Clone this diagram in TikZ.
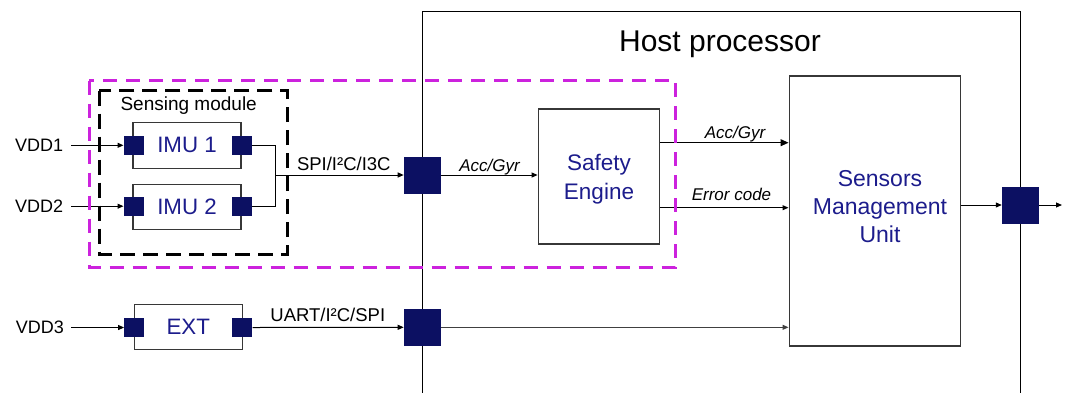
\documentclass[tikz,border=0pt]{standalone}
\usepackage{fontspec}
\setmainfont{Liberation Sans}
\usetikzlibrary{arrows.meta}

\definecolor{portnavy}{RGB}{12,16,98}
\definecolor{blocktext}{RGB}{28,28,140}
\definecolor{grpmag}{RGB}{204,34,221}
\definecolor{edgegray}{RGB}{55,55,55}

\newcommand{\pxfont}[2]{\fontsize{#1}{#2}\selectfont}

\tikzset{
  block/.style={draw=edgegray, line width=1.4pt, fill=white, inner sep=0pt,
                text=blocktext, font=\pxfont{22.3}{26}},
  port/.style={fill=portnavy, inner sep=0pt, minimum width=20, minimum height=19},
  hostport/.style={fill=portnavy, inner sep=0pt, minimum size=37},
  lbl/.style={inner sep=0pt, font=\pxfont{18}{22}},
  buslbl/.style={inner sep=0pt, font=\pxfont{18.5}{22}},
  sig/.style={inner sep=0pt, font=\itshape\pxfont{17}{20}},
  wire/.style={line width=1pt, draw=black},
  arr/.style={wire, -{Triangle[length=6pt,width=5pt]}},
  bigarr/.style={wire, -{Triangle[length=8pt,width=7pt]}},
  group/.style={line width=3pt, dash pattern=on 14pt off 9pt},
}

\begin{document}
\begin{tikzpicture}[x=1pt, y=-1pt]
\useasboundingbox (0,0) rectangle (1070,392);

% host processor outline (open at the bottom)
\draw[line width=1pt] (422,393) -- (422,11.5) -- (1020,11.5) -- (1020,393);
\node[inner sep=0pt, anchor=base, font=\pxfont{30}{34}] (hosttitle) at (720,51.7) {Host processor};

% blocks
\node[block, minimum width=108, minimum height=46] (imu1) at (187,145.3) {IMU 1};
\node[block, minimum width=108, minimum height=45] (imu2) at (187,206.7) {IMU 2};
\node[block, minimum width=108, minimum height=45] (ext) at (188.3,326.8) {EXT};
\node[block, minimum width=121, minimum height=135] (se) at (598.8,176.5) {};
\node[inner sep=0pt, align=center, text=blocktext, font=\pxfont{22.5}{29.3}] (setext) at (599,179.5) {Safety\\Engine};
\node[block, minimum width=171, minimum height=270] (smu) at (874.7,210.9) {};
\node[inner sep=0pt, align=center, text=blocktext, font=\pxfont{23}{28}] (smutext) at (880,206.4) {Sensors\\Management\\Unit};

% supply labels
\node[lbl, anchor=base west] (vdd1) at (15,151.7) {VDD1};
\node[lbl, anchor=base west] (vdd2) at (15,212.7) {VDD2};
\node[lbl, anchor=base west] (vdd3) at (15.7,333.7) {VDD3};

% ports
\node[port] (imu1in) at (133.7,145.3) {};
\node[port] (imu1out) at (241.7,145.3) {};
\node[port] (imu2in) at (133.7,206.2) {};
\node[port] (imu2out) at (241.7,206.2) {};
\node[port] (extin) at (134.3,327.5) {};
\node[port] (extout) at (242.3,327.5) {};
\node[hostport] (hp1) at (422.4,175) {};
\node[hostport] (hp2) at (422.4,327.3) {};
\node[hostport] (hp3) at (1020.5,205) {};

% supply wires
\coordinate (v1) at ([xshift=8pt]vdd1.east);
\coordinate (v2) at ([xshift=8pt]vdd2.east);
\coordinate (v3) at ([xshift=7pt]vdd3.east);
\draw[arr] (v1 |- imu1in) -- (imu1in.west);
\draw[arr] (v2 |- imu2in) -- (imu2in.west);
\draw[arr] (v3 |- extin) -- (extin.west);

% sensor bus
\coordinate (jn) at (275,175);
\draw[wire] (imu1out.east) -| (jn);
\draw[wire] (imu2out.east) -| (jn);
\draw[arr] (jn) -- (hp1.west);
\node[buslbl, anchor=base] (spilbl) at (343.8,170) {SPI/I²C/I3C};

% external bus
\draw[arr] (extout.east) -- (hp2.west);
\node[buslbl, anchor=base] (uartlbl) at (327.8,321.7) {UART/I²C/SPI};
\draw[arr, draw=black!75] (hp2.east) -- (hp2.east -| smu.west);

% safety engine path
\draw[arr] (hp1.east) -- (hp1.east -| se.west);
\node[sig, anchor=base] (accin) at (489.5,171.7) {Acc/Gyr};
\draw[bigarr] (se.east |- 0,142.7) -- (smu.west |- 0,142.7);
\node[sig, anchor=base] (accout) at (735,138) {Acc/Gyr};
\draw[arr] (se.east |- 0,207.7) -- (smu.west |- 0,207.7);
\node[sig, anchor=base] (errout) at (731.5,200) {Error code};

% output
\draw[arr] (smu.east |- hp3) -- (hp3.west);
\coordinate (outend) at (1062,205);
\draw[arr] (hp3.east) -- (outend);

% grouping frames
\draw[group, draw=grpmag] (89,80.7) rectangle (675.5,267);
\draw[group, draw=black, dash pattern=on 15pt off 8pt] (99.3,90.7) rectangle (287,254);
\node[inner sep=0pt, anchor=base, font=\pxfont{19}{22}] (senslbl) at (188.7,110.7) {Sensing module};
\end{tikzpicture}
\end{document}
